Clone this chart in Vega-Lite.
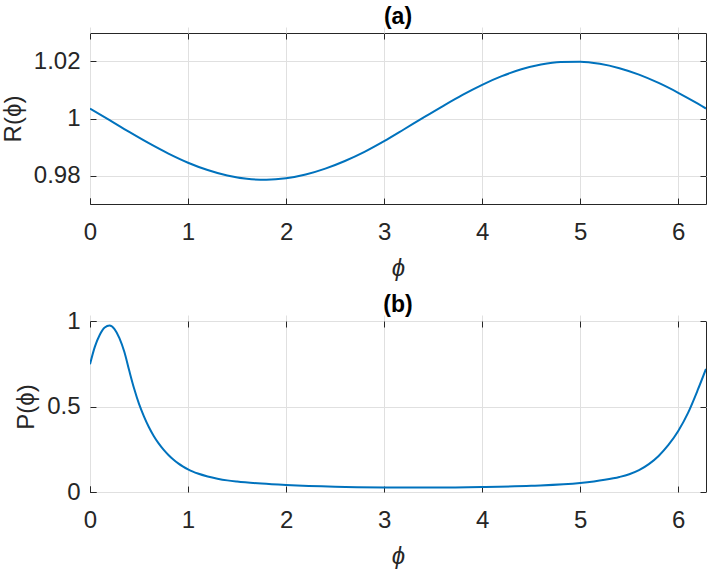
{
  "$schema": "https://vega.github.io/schema/vega-lite/v6.json",
  "padding": {"left": 0, "top": 5, "right": 0, "bottom": 0},
  "background": "white",
  "spacing": 12,
  "config": {
    "font": "Liberation Sans",
    "view": {"stroke": "#262626", "strokeWidth": 1},
    "axis": {
      "labelFont": "Liberation Sans", "titleFont": "Liberation Sans",
      "labelFontSize": 24, "titleFontSize": 24, "labelColor": "#262626", "titleColor": "#262626",
      "titleFontWeight": "normal", "domain": false, "tickColor": "#262626",
      "gridColor": "#e0e0e0", "tickSize": 6, "offset": -6, "labelFlush": false, "labelOverlap": false
    },
    "axisX": {"labelPadding": 16},
    "axisY": {"labelPadding": 10},
    "title": {"font": "Liberation Sans", "fontSize": 23, "fontWeight": "bold", "color": "#000000", "offset": 4}
  },
  "datasets": {
    "R": [
      {"phi": 0, "v": 1.0035}, {"phi": 0.2, "v": 0.99941}, {"phi": 0.4, "v": 0.99528}, {"phi": 0.6, "v": 0.99132},
      {"phi": 0.8, "v": 0.98768}, {"phi": 1.0, "v": 0.98449}, {"phi": 1.2, "v": 0.98191}, {"phi": 1.4, "v": 0.97997},
      {"phi": 1.6, "v": 0.97883}, {"phi": 1.8, "v": 0.9785}, {"phi": 2.0, "v": 0.97902}, {"phi": 2.2, "v": 0.98035},
      {"phi": 2.4, "v": 0.98241}, {"phi": 2.6, "v": 0.9851}, {"phi": 2.8, "v": 0.9883}, {"phi": 3.0, "v": 0.99205},
      {"phi": 3.2, "v": 0.99614}, {"phi": 3.4, "v": 1.0003}, {"phi": 3.6, "v": 1.00438}, {"phi": 3.8, "v": 1.00829},
      {"phi": 4.0, "v": 1.01182}, {"phi": 4.2, "v": 1.01485}, {"phi": 4.4, "v": 1.01726}, {"phi": 4.6, "v": 1.01895},
      {"phi": 4.8, "v": 1.01985}, {"phi": 5.0, "v": 1.01993}, {"phi": 5.2, "v": 1.01919}, {"phi": 5.4, "v": 1.01765},
      {"phi": 5.6, "v": 1.01539}, {"phi": 5.8, "v": 1.01247}, {"phi": 6.0, "v": 1.00903}, {"phi": 6.2, "v": 1.0052},
      {"phi": 6.2832, "v": 1.0035}
    ],
    "P": [
      {"phi": 0, "v": 0.747}, {"phi": 0.05, "v": 0.85}, {"phi": 0.1, "v": 0.92}, {"phi": 0.15, "v": 0.962},
      {"phi": 0.2, "v": 0.973}, {"phi": 0.25, "v": 0.953}, {"phi": 0.3, "v": 0.9}, {"phi": 0.35, "v": 0.82},
      {"phi": 0.4, "v": 0.71}, {"phi": 0.45, "v": 0.605}, {"phi": 0.5, "v": 0.515}, {"phi": 0.55, "v": 0.4425},
      {"phi": 0.6, "v": 0.38}, {"phi": 0.65, "v": 0.3275}, {"phi": 0.7, "v": 0.284}, {"phi": 0.75, "v": 0.2475},
      {"phi": 0.8, "v": 0.2165}, {"phi": 0.85, "v": 0.19}, {"phi": 0.9, "v": 0.1675}, {"phi": 0.95, "v": 0.1485},
      {"phi": 1.0, "v": 0.1325}, {"phi": 1.05, "v": 0.119}, {"phi": 1.1, "v": 0.108}, {"phi": 1.2, "v": 0.091},
      {"phi": 1.3, "v": 0.078}, {"phi": 1.4, "v": 0.068}, {"phi": 1.5, "v": 0.061},
      {"phi": 1.75, "v": 0.049}, {"phi": 2.0, "v": 0.041}, {"phi": 2.5, "v": 0.031}, {"phi": 3.0, "v": 0.027},
      {"phi": 3.5, "v": 0.026}, {"phi": 4.0, "v": 0.029}, {"phi": 4.5, "v": 0.036}, {"phi": 5.0, "v": 0.052},
      {"phi": 5.25, "v": 0.071}, {"phi": 5.4, "v": 0.088}, {"phi": 5.5, "v": 0.104}, {"phi": 5.6, "v": 0.128},
      {"phi": 5.7, "v": 0.163}, {"phi": 5.8, "v": 0.211}, {"phi": 5.9, "v": 0.275}, {"phi": 6.0, "v": 0.357},
      {"phi": 6.1, "v": 0.463}, {"phi": 6.2, "v": 0.598}, {"phi": 6.2832, "v": 0.72}
    ]
  },
  "vconcat": [
    {
      "title": "(a)",
      "width": 616, "height": 171,
      "data": {"name": "R"},
      "layer": [
        {
          "mark": {"type": "line", "color": "#0072BD", "strokeWidth": 2, "interpolate": "monotone", "clip": true},
          "encoding": {
            "x": {"field": "phi", "type": "quantitative", "scale": {"domain": [0, 6.2832], "nice": false, "zero": false},
                  "axis": {"values": [0, 1, 2, 3, 4, 5, 6], "title": "ϕ", "titleFontStyle": "italic", "titlePadding": 12}},
            "y": {"field": "v", "type": "quantitative", "scale": {"domain": [0.97, 1.03], "nice": false, "zero": false},
                  "axis": {"values": [0.98, 1, 1.02], "format": ".2~f", "title": "R(ϕ)", "titlePadding": 8}}
          }
        },
        {
          "mark": {"type": "line", "opacity": 0},
          "encoding": {
            "x": {"field": "phi", "type": "quantitative", "scale": {"domain": [0, 6.2832], "nice": false, "zero": false},
                  "axis": {"orient": "top", "values": [0, 1, 2, 3, 4, 5, 6], "labels": false, "grid": false, "title": null}},
            "y": {"field": "v", "type": "quantitative", "scale": {"domain": [0.97, 1.03], "nice": false, "zero": false},
                  "axis": {"orient": "right", "values": [0.98, 1, 1.02], "labels": false, "grid": false, "title": null}}
          }
        }
      ],
      "resolve": {"scale": {"x": "independent", "y": "independent"}, "axis": {"x": "independent", "y": "independent"}}
    },
    {
      "title": {"text": "(b)", "offset": -8},
      "width": 616, "height": 171,
      "data": {"name": "P"},
      "layer": [
        {
          "mark": {"type": "line", "color": "#0072BD", "strokeWidth": 2, "interpolate": "monotone", "clip": true},
          "encoding": {
            "x": {"field": "phi", "type": "quantitative", "scale": {"domain": [0, 6.2832], "nice": false, "zero": false},
                  "axis": {"values": [0, 1, 2, 3, 4, 5, 6], "title": "ϕ", "titleFontStyle": "italic", "titlePadding": 12}},
            "y": {"field": "v", "type": "quantitative", "scale": {"domain": [0, 1], "nice": false},
                  "axis": {"values": [0, 0.5, 1], "format": "~g", "title": "P(ϕ)", "titlePadding": 8}}
          }
        },
        {
          "mark": {"type": "line", "opacity": 0},
          "encoding": {
            "x": {"field": "phi", "type": "quantitative", "scale": {"domain": [0, 6.2832], "nice": false, "zero": false},
                  "axis": {"orient": "top", "values": [0, 1, 2, 3, 4, 5, 6], "labels": false, "grid": false, "title": null}},
            "y": {"field": "v", "type": "quantitative", "scale": {"domain": [0, 1], "nice": false},
                  "axis": {"orient": "right", "values": [0, 0.5, 1], "labels": false, "grid": false, "title": null}}
          }
        }
      ],
      "resolve": {"scale": {"x": "independent", "y": "independent"}, "axis": {"x": "independent", "y": "independent"}}
    }
  ]
}
